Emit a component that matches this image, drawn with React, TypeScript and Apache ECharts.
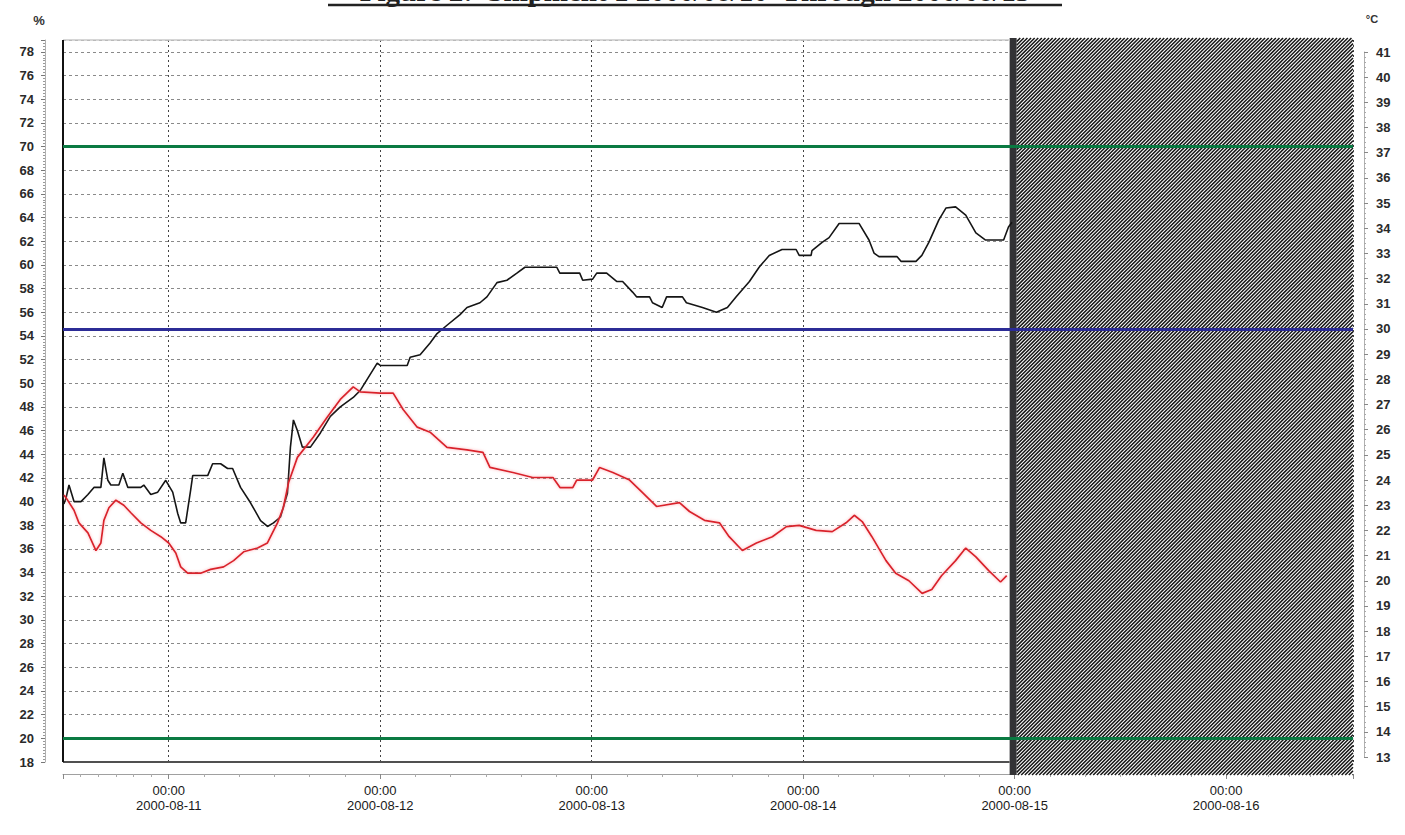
import React, { useEffect, useRef } from "react";
import * as echarts from "echarts";

// ---- data (hours counted from 2000-08-10 12:00) ----
const START = new Date(2000, 7, 10, 12, 0, 0).getTime();
const HOUR = 3600 * 1000;
const X_RANGE_HOURS = 146.4; // axis runs to ~2000-08-16 14:24
const LOGGER_END_HOURS = 108; // 2000-08-15 00:00

const titleText = "Figure 2:  Shipment 1 2000/08/10  Through 2000/08/15";

// relative humidity, %
const humidity: [number, number][] = [
  [0.1, 39.8], [0.34, 40.3], [0.68, 41.4], [1.25, 40.0], [2.04, 40.0], [2.83, 40.6], [3.51, 41.2],
  [4.3, 41.2], [4.64, 43.7], [5.09, 41.8], [5.43, 41.4], [6.34, 41.4], [6.79, 42.4], [7.36, 41.2],
  [8.83, 41.2], [9.17, 41.4], [9.96, 40.6], [10.75, 40.8], [11.66, 41.8], [12.45, 40.8], [13.02, 39.0],
  [13.36, 38.2], [13.92, 38.2], [14.49, 41.0], [14.72, 42.2], [16.42, 42.2], [16.98, 43.2], [17.89, 43.2],
  [18.68, 42.8], [19.25, 42.8], [20.15, 41.2], [21.28, 39.9], [22.42, 38.4], [23.21, 37.9], [23.89, 38.2],
  [24.68, 38.7], [25.47, 40.7], [25.81, 44.6], [26.15, 46.9], [26.6, 46.0], [27.17, 44.6], [28.08, 44.6],
  [29.21, 45.8], [30.34, 47.2], [31.47, 48.0], [32.94, 48.8], [33.74, 49.4], [35.66, 51.7], [36.0, 51.5],
  [39.06, 51.5], [39.4, 52.2], [40.53, 52.4], [41.66, 53.4], [42.45, 54.2], [43.58, 54.9], [45.06, 55.8],
  [45.85, 56.4], [47.32, 56.8], [48.11, 57.3], [49.25, 58.5], [50.38, 58.7], [51.51, 59.3], [52.42, 59.8],
  [56.04, 59.8], [56.38, 59.3], [58.64, 59.3], [58.98, 58.7], [60.11, 58.8], [60.57, 59.3], [61.7, 59.3],
  [62.83, 58.6], [63.51, 58.6], [64.64, 57.7], [65.09, 57.3], [66.57, 57.3], [66.9, 56.8], [68.0, 56.4],
  [68.5, 57.3], [70.3, 57.3], [70.75, 56.8], [72.57, 56.4], [74.15, 56.0], [75.4, 56.4], [76.4, 57.3],
  [77.9, 58.6], [79.0, 59.8], [80.15, 60.8], [81.6, 61.3], [83.2, 61.3], [83.55, 60.8], [84.9, 60.8],
  [85.0, 61.2], [86.15, 61.9], [86.94, 62.3], [88.08, 63.5], [90.34, 63.5], [91.47, 62.1], [92.04, 61.0],
  [92.6, 60.7], [94.64, 60.7], [95.1, 60.3], [96.8, 60.3], [97.47, 60.8], [98.26, 61.9], [99.4, 63.8],
  [100.2, 64.8], [101.3, 64.9], [102.45, 64.2], [103.6, 62.7], [104.7, 62.1], [106.75, 62.1], [107.3, 63.2],
  [107.7, 63.6],
];

// temperature, °C
const temperature: [number, number][] = [
  [0.11, 23.4], [0.34, 23.3], [1.25, 22.8], [1.81, 22.3], [2.83, 21.9], [3.74, 21.2], [4.3, 21.5],
  [4.64, 22.4], [5.21, 22.9], [6.0, 23.2], [6.9, 23.0], [7.7, 22.7], [8.83, 22.3], [9.96, 22.0],
  [11.1, 21.75], [12.0, 21.5], [12.8, 21.1], [13.36, 20.55], [14.15, 20.3], [15.62, 20.3], [16.75, 20.45],
  [18.23, 20.55], [19.36, 20.8], [20.5, 21.15], [22.08, 21.3], [23.2, 21.5], [24.34, 22.3], [25.0, 22.9],
  [25.6, 23.9], [26.6, 24.9], [28.4, 25.7], [30.0, 26.5], [31.47, 27.2], [32.94, 27.7], [33.74, 27.5],
  [36.0, 27.45], [37.47, 27.45], [38.6, 26.8], [40.2, 26.1], [41.66, 25.9], [43.58, 25.3], [45.85, 25.2],
  [47.66, 25.1], [48.45, 24.5], [51.06, 24.3], [53.3, 24.1], [55.6, 24.1], [56.4, 23.7], [57.85, 23.7],
  [58.3, 24.0], [60.1, 24.0], [60.9, 24.5], [62.4, 24.3], [64.3, 24.0], [65.77, 23.5], [67.36, 22.95],
  [69.96, 23.1], [71.1, 22.75], [72.8, 22.4], [74.5, 22.3], [75.6, 21.75], [77.1, 21.2], [78.7, 21.5],
  [80.5, 21.75], [82.1, 22.15], [83.55, 22.2], [85.47, 22.0], [87.3, 21.95], [88.87, 22.3], [89.8, 22.6],
  [90.7, 22.35], [91.8, 21.75], [93.4, 20.8], [94.5, 20.3], [96.0, 20.0], [97.5, 19.5], [98.6, 19.65],
  [99.7, 20.2], [101.3, 20.8], [102.45, 21.3], [103.6, 20.95], [105.06, 20.4], [106.4, 19.95], [107.1, 20.2],
];

const humidityLimits = [70, 20];
const temperatureLimits = [30];

const pad = (n: number) => (n < 10 ? "0" + n : "" + n);

export default function App() {
  const ref = useRef<HTMLDivElement>(null);

  useEffect(() => {
    document.body.style.margin = "0";
    const chart = echarts.init(ref.current!, undefined, { renderer: "svg" });
    const W = 1405;
    const H = 835;
    const gl = 63;
    const gr = 52;
    const gt = 40;
    const gb = 73;
    const xMin = START;
    const xMax = START + X_RANGE_HOURS * HOUR;
    const font = "Liberation Sans, Arial, sans-serif";

    chart.setOption({
      animation: false,
      backgroundColor: "#ffffff",
      grid: [
        { left: gl, right: gr, top: gt, bottom: gb },
        { left: gl, right: gr, top: 52, bottom: 78 },
      ],
      xAxis: [
        {
          type: "time",
          gridIndex: 0,
          min: xMin,
          max: xMax,
          minInterval: 24 * HOUR,
          maxInterval: 24 * HOUR,
          offset: 12,
          axisLine: { show: true, lineStyle: { color: "#a0a0a0", width: 1 } },
          axisTick: { show: true, length: 5, lineStyle: { color: "#888" } },
          minorTick: { show: true, splitNumber: 6, length: 3, lineStyle: { color: "#aaa" } },
          splitLine: { show: true, lineStyle: { color: "#444", type: [2, 3], width: 1 } },
          axisLabel: {
            showMinLabel: false,
            showMaxLabel: false,
            margin: 9,
            fontSize: 13,
            lineHeight: 15,
            color: "#1a1a1a",
            fontFamily: font,
            formatter: (v: number) => {
              const d = new Date(v);
              if (d.getHours() !== 0 || d.getMinutes() !== 0) return "";
              return `00:00\n${d.getFullYear()}-${pad(d.getMonth() + 1)}-${pad(d.getDate())}`;
            },
          },
        },
        { type: "time", gridIndex: 1, min: xMin, max: xMax, show: false },
      ],
      yAxis: [
        {
          type: "value",
          gridIndex: 0,
          position: "left",
          min: 18,
          max: 79,
          interval: 2,
          offset: 18,
          axisLine: { show: true, lineStyle: { color: "#b0b0b0" } },
          axisTick: { show: true, length: 4, lineStyle: { color: "#777" } },
          minorTick: { show: true, splitNumber: 8, length: 2, lineStyle: { color: "#999" } },
          axisLabel: {
            showMaxLabel: false,
            margin: 11,
            fontSize: 13,
            fontWeight: "bold",
            color: "#2a2a2a",
            fontFamily: font,
          },
          splitLine: { show: true, lineStyle: { color: "#8a8a8a", type: [3, 3], width: 1 } },
        },
        {
          type: "value",
          gridIndex: 1,
          position: "right",
          min: 13,
          max: 41,
          interval: 1,
          offset: 11,
          axisLine: { show: true, lineStyle: { color: "#b0b0b0" } },
          axisTick: { show: true, length: 4, lineStyle: { color: "#888" } },
          minorTick: { show: true, splitNumber: 5, length: 2, lineStyle: { color: "#aaa" } },
          axisLabel: {
            margin: 12,
            fontSize: 13,
            fontWeight: "bold",
            color: "#2a2a2a",
            fontFamily: font,
          },
          splitLine: { show: false },
        },
      ],
      series: [
        {
          name: "Humidity",
          type: "line",
          xAxisIndex: 0,
          yAxisIndex: 0,
          data: humidity.map(([h, v]) => [START + h * HOUR, v]),
          symbol: "none",
          z: 4,
          lineStyle: { color: "#151515", width: 1.6 },
          markLine: {
            silent: true,
            symbol: ["none", "none"],
            label: { show: false },
            lineStyle: { color: "#0a7a42", width: 3, type: "solid" },
            data: humidityLimits.map((v) => ({ yAxis: v })),
          },
        },
        {
          name: "Temperature",
          type: "line",
          xAxisIndex: 1,
          yAxisIndex: 1,
          data: temperature.map(([h, v]) => [START + h * HOUR, v]),
          symbol: "none",
          z: 4,
          lineStyle: {
            color: "#d9222c",
            width: 1.7,
            shadowColor: "rgba(255,120,130,0.6)",
            shadowBlur: 3,
          },
          markLine: {
            silent: true,
            symbol: ["none", "none"],
            label: { show: false },
            lineStyle: { color: "#2c2c96", width: 3, type: "solid" },
            data: temperatureLimits.map((v) => ({ yAxis: v })),
          },
        },
      ],
    });

    // decorations: frame, end-of-recording bar and hatched area
    const xEnd = chart.convertToPixel({ xAxisIndex: 0 }, START + LOGGER_END_HOURS * HOUR) as number;
    const plotRight = W - gr;
    const plotBottom = H - gb;
    const hx0 = xEnd + 2;
    const hx1 = plotRight;
    const hy0 = 38;
    const hy1 = 775;
    const step = 3.6;
    const hatch: any[] = [];
    for (let c = hx0 + hy0; c <= hx1 + hy1; c += step) {
      const xa = Math.max(hx0, c - hy1);
      const xb = Math.min(hx1, c - hy0);
      if (xb <= xa) continue;
      hatch.push({
        type: "line",
        silent: true,
        z: 2,
        shape: { x1: xa, y1: c - xa, x2: xb, y2: c - xb },
        style: { stroke: "#151515", lineWidth: 1.5 },
      });
    }

    chart.setOption({
      graphic: [
        {
          type: "rect",
          silent: true,
          z: 1,
          shape: { x: hx0, y: hy0, width: hx1 - hx0, height: hy1 - hy0 },
          style: { fill: "#ffffff" },
        },
        ...hatch,
        {
          type: "rect",
          silent: true,
          z: 3,
          shape: { x: xEnd - 5, y: hy0, width: 7, height: hy1 - hy0 },
          style: { fill: "#333336" },
        },
        {
          type: "line",
          silent: true,
          z: 3,
          shape: { x1: gl, y1: gt, x2: xEnd - 5, y2: gt },
          style: { stroke: "#c8c8c8", lineWidth: 1.5 },
        },
        {
          type: "line",
          silent: true,
          z: 3,
          shape: { x1: gl, y1: plotBottom, x2: xEnd - 5, y2: plotBottom },
          style: { stroke: "#505050", lineWidth: 2 },
        },
        {
          type: "line",
          silent: true,
          z: 3,
          shape: { x1: gl, y1: gt, x2: gl, y2: plotBottom },
          style: { stroke: "#111", lineWidth: 2 },
        },
        {
          type: "text",
          silent: true,
          z: 5,
          x: 39,
          y: 20,
          style: {
            text: "%",
            fontSize: 13,
            fontWeight: "bold",
            fill: "#333",
            fontFamily: font,
            align: "center",
            verticalAlign: "middle",
          },
        },
        {
          type: "text",
          silent: true,
          z: 5,
          x: 1372,
          y: 19,
          style: {
            text: "°C",
            fontSize: 11,
            fontWeight: "bold",
            fill: "#333",
            fontFamily: font,
            align: "center",
            verticalAlign: "middle",
          },
        },
        {
          type: "text",
          silent: true,
          z: 5,
          x: 695,
          y: -9,
          style: {
            text: titleText,
            fontSize: 29,
            fontWeight: "bold",
            fill: "#222",
            fontFamily: "Liberation Serif, Times New Roman, serif",
            align: "center",
            verticalAlign: "middle",
          },
        },
        {
          type: "line",
          silent: true,
          z: 5,
          shape: { x1: 328, y1: 5, x2: 1062, y2: 5 },
          style: { stroke: "#222", lineWidth: 2.5 },
        },
      ],
    });

    return () => chart.dispose();
  }, []);

  return <div ref={ref} style={{ width: 1405, height: 835, overflow: "hidden" }} />;
}
